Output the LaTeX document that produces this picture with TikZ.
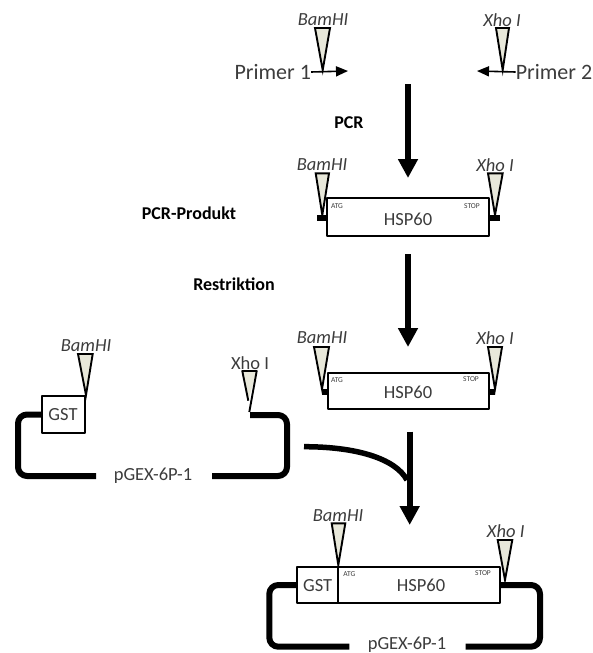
\documentclass[tikz,border=0pt]{standalone}
\usepackage{fontspec}
\setmainfont{Carlito}
\usetikzlibrary{arrows.meta}
\definecolor{sitefill}{RGB}{232,232,218}
\definecolor{labelgray}{RGB}{60,60,60}
\tikzset{
	lbl/.style = {inner sep=0, text=labelgray, font=\fontsize{18.5}{20}\selectfont},
	enzyme/.style = {lbl, font=\fontsize{18.5}{20}\selectfont\itshape},
	step label/.style = {inner sep=0, font=\fontsize{18}{20}\selectfont\bfseries},
	tiny/.style = {inner sep=0, text=labelgray, font=\fontsize{7.5}{8}\selectfont},
	gene/.style = {draw, line width=1.9, inner sep=0, outer sep=0},
	site/.style = {draw, fill=sitefill, line width=1.9, line join=miter},
	stub/.style = {fill=black},
	backbone/.style = {line width=6, rounded corners=9},
	bigarrow/.style = {line width=6, -{Triangle[width=19,length=19]}},
	primerarrow/.style = {line width=1.6, -{Triangle[width=10,length=12]}}
}
\begin{document}
\begin{tikzpicture}[x=1pt, y=-1pt, line join=round]
	\useasboundingbox (0,0) rectangle (593,653);
	\begin{scope}% Primer
		\draw[site] (315,28) -- (330,28) -- (322.7,70) -- cycle;
		\draw[site] (496,28) -- (509,28) -- (502.7,70) -- cycle;
		\node[enzyme] (bam1) at (323,20) {BamHI};
		\node[enzyme] (xho1) at (502,20) {Xho I};
		\node[lbl, font=\fontsize{22}{24}\selectfont] (primer1) at (272.7,72) {Primer 1};
		\node[lbl, font=\fontsize{22}{24}\selectfont] (primer2) at (554,72) {Primer 2};
		\draw[primerarrow] (primer1.east) -- (348,71);
		\draw[primerarrow] (primer2.west) -- (477,71);
	\end{scope}
	\draw[bigarrow] (408,84) -- (408,178);
	\node[step label] (pcr) at (349,123) {PCR};
	\begin{scope}% PCR-Produkt
		\node[step label] (produkt) at (189,213) {PCR-Produkt};
		\node[gene, minimum width=162, minimum height=38] (hsp1) at (408.3,217) {};
		\node[lbl] (hsp1txt) at (408,219) {HSP60};
		\node[tiny] (atg1) at (337,206) {ATG};
		\node[tiny] (stop1) at (472,206) {STOP};
		\fill[stub] (316.7,215) rectangle (327.3,221);
		\fill[stub] (489.3,215) rectangle (500,221);
		\draw[site] (315.7,173.3) -- (329,173.3) -- (322.3,215) -- cycle;
		\draw[site] (488,173.3) -- (502.7,173.3) -- (495,215) -- cycle;
		\node[enzyme] (bam2) at (322,165) {BamHI};
		\node[enzyme] (xho2) at (495,165) {Xho I};
	\end{scope}
	\node[step label] (restr) at (234,284) {Restriktion};
	\draw[bigarrow] (408,254) -- (408,347);
	\begin{scope}% Restriktion
		\node[gene, minimum width=161.5, minimum height=36.5] (hsp2) at (408.3,391) {};
		\node[lbl] (hsp2txt) at (408,392) {HSP60};
		\node[tiny] (atg2) at (337,380) {ATG};
		\node[tiny] (stop2) at (471,379) {STOP};
		\fill[stub] (321.7,389) rectangle (327.7,395);
		\fill[stub] (489,389) rectangle (495,395);
		\draw[site] (314,347) -- (329,347) -- (322,389) -- cycle;
		\draw[site] (488,347) -- (502,347) -- (495,389) -- cycle;
		\node[enzyme] (bam3) at (322,338) {BamHI};
		\node[enzyme] (xho3) at (495,338) {Xho I};
	\end{scope}
	\begin{scope}% pGEX-6P-1
		\node[gene, minimum width=43, minimum height=37] (gst1) at (63.5,414.5) {};
		\node[lbl] (gst1txt) at (63,415) {GST};
		\node[lbl] (vec1) at (153,476) {pGEX-6P-1};
		\draw[backbone] (gst1.west) -- (18,414.5) -- (18,476) -- (96,476);
		\draw[backbone] (212,476) -- (287,476) -- (287,415) -- (250,415);
		\draw[site] (78,354) -- (92.7,354) -- (86,395) -- cycle;
		\node[enzyme] (bam4) at (86,346) {BamHI};
		\fill[sitefill] (242.3,371) -- (256.7,371) -- (248.3,400.7) -- cycle;
		\draw[line width=1.9] (248.3,400.7) -- (242.3,371) -- (256.7,371) -- (249.3,412);
		\node[lbl] (xho4) at (250,363) {Xho I};
	\end{scope}
	\draw[line width=5.5] (304,446.7) .. controls (355,446.7) and (395,458) .. (407,480);
	\draw[bigarrow] (409.7,431.7) -- (409.7,525);
	\begin{scope}% Fusion
		\node[gene, minimum width=203.3, minimum height=36.6] (fusion) at (398.3,585) {};
		\draw[line width=1.9] (338.3,566.7) -- (338.3,603.3);
		\node[lbl] (gst2txt) at (317.7,585.7) {GST};
		\node[lbl] (hsp3txt) at (421,585.7) {HSP60};
		\node[tiny] (atg3) at (349.3,574) {ATG};
		\node[tiny] (stop3) at (483,573) {STOP};
		\node[lbl] (vec2) at (407,645) {pGEX-6P-1};
		\draw[backbone] (fusion.west) -- (269.3,585) -- (269.3,646.7) -- (349.3,646.7);
		\draw[backbone] (465.7,646.7) -- (540,646.7) -- (540,585) -- (fusion.east);
		\draw[site] (331.7,523.3) -- (345.3,523.3) -- (338.3,565) -- cycle;
		\draw[site] (497.7,540) -- (512.3,540) -- (505,580) -- cycle;
		\node[enzyme] (bam5) at (338,515.7) {BamHI};
		\node[enzyme] (xho5) at (505.7,531) {Xho I};
	\end{scope}
\end{tikzpicture}
\end{document}
